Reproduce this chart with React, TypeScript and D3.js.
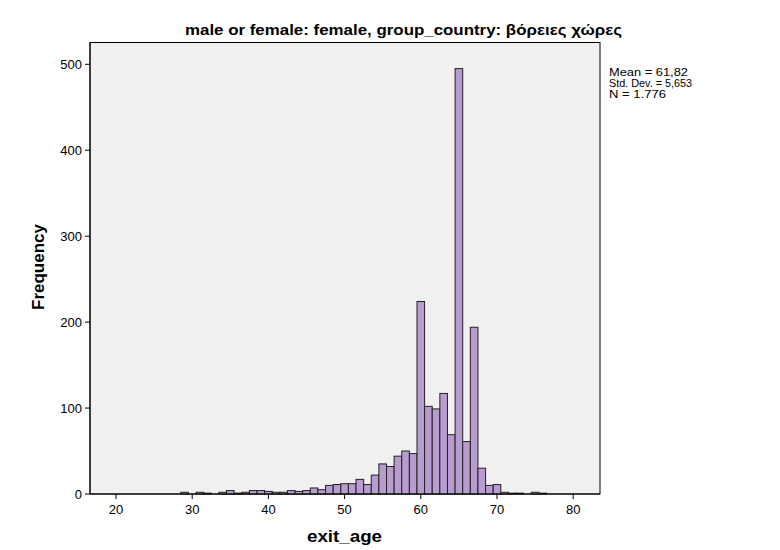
import React from "react";
import * as d3 from "d3";

const ages = [29, 31, 32, 34, 35, 36, 37, 38, 39, 40, 41, 42, 43, 44, 45, 46, 47, 48, 49, 50, 51, 52, 53, 54, 55, 56, 57, 58, 59, 60, 61, 62, 63, 64, 65, 66, 67, 68, 69, 70, 71, 72, 73, 75, 76];
const counts = [2, 2, 1, 2, 4, 1, 2, 4, 4, 3, 2, 2, 4, 3, 4, 7, 5, 10, 11, 12, 12, 17, 11, 22, 35, 32, 44, 50, 47, 224, 102, 99, 117, 69, 495, 61, 194, 30, 10, 11, 2, 1, 1, 2, 1];
const xTicks = [20, 30, 40, 50, 60, 70, 80];
const yTicks = [0, 100, 200, 300, 400, 500];
const statLines = ["Mean = 61,82", "Std. Dev. = 5,653", "N = 1.776"];
const statWidths = [79, 83, 57];
const title = "male or female: female, group_country: βόρειες χώρες";

export default function App() {
  const W = 780, H = 550;
  const left = 90, right = 600, top = 42.5, bottom = 494;
  const x = d3.scaleLinear().domain([20, 80]).range([116, 573.2]);
  const y = d3.scaleLinear().domain([0, 500]).range([bottom, bottom - 429.7]);
  const font = "'Liberation Sans', Arial, sans-serif";
  return (
    <svg width={W} height={H} style={{ position: "absolute", left: 0, top: 0, background: "#fff" }} fontFamily={font}>
      <rect x={0} y={0} width={W} height={H} fill="#fff" />
      <text x={185} y={35} fontSize={14} fontWeight="bold" fill="#000" textLength={437} lengthAdjust="spacingAndGlyphs">{title}</text>
      <rect x={left} y={top} width={right - left} height={bottom - top} fill="#f0f0f0" stroke="#000" strokeWidth={1} />
      {ages.map((a, i) => (
        <rect key={a} x={x(a - 0.5)} y={y(counts[i])} width={x(a + 0.5) - x(a - 0.5)} height={bottom - y(counts[i])}
          fill="#b89ccf" stroke="#222" strokeWidth={1} />
      ))}
      <line x1={left} x2={left} y1={top} y2={bottom} stroke="#000" />
      <line x1={left} x2={right} y1={bottom} y2={bottom} stroke="#000" />
      {yTicks.map(t => (
        <g key={t}>
          <line x1={left - 5} x2={left} y1={y(t)} y2={y(t)} stroke="#000" />
          <text x={left - 8} y={y(t) + 4.5} textAnchor="end" fontSize={13} fill="#000">{t}</text>
        </g>
      ))}
      {xTicks.map(t => (
        <g key={t}>
          <line x1={x(t)} x2={x(t)} y1={bottom} y2={bottom + 5} stroke="#000" />
          <text x={x(t)} y={bottom + 20} textAnchor="middle" fontSize={13} fill="#000">{t}</text>
        </g>
      ))}
      <text transform={`translate(44,267) rotate(-90)`} textAnchor="middle" fontSize={17} fontWeight="bold" fill="#000">Frequency</text>
      <text x={307} y={542} fontSize={17} fontWeight="bold" fill="#000" textLength={75} lengthAdjust="spacingAndGlyphs">exit_age</text>
      {statLines.map((s, i) => (
        <text key={s} x={609} y={76 + i * 11} fontSize={11} fill="#000" textLength={statWidths[i]} lengthAdjust="spacingAndGlyphs">{s}</text>
      ))}
    </svg>
  );
}
